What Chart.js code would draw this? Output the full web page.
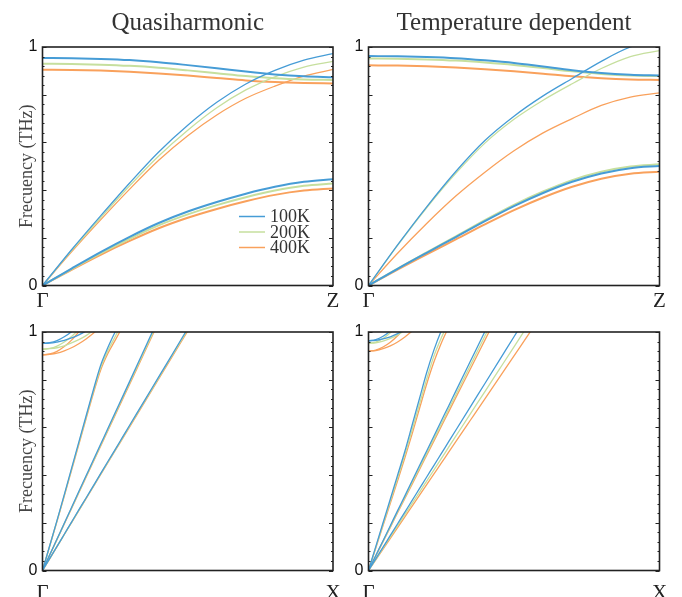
<!DOCTYPE html>
<html>
<head>
<meta charset="utf-8">
<script src="https://cdn.jsdelivr.net/npm/chart.js@4.4.1/dist/chart.umd.min.js"></script>
<style>
  body { margin: 0; background: #fff; }
  #wrap { position: relative; width: 682px; height: 597px; overflow: hidden; }
  canvas { position: absolute; }
</style>
</head>
<body>
<div id="wrap">
  <canvas id="p1" width="341" height="312" style="left:0;top:0"></canvas>
  <canvas id="p2" width="341" height="312" style="left:341px;top:0"></canvas>
  <canvas id="p3" width="341" height="297" style="left:0;top:300px"></canvas>
  <canvas id="p4" width="341" height="297" style="left:341px;top:300px"></canvas>
</div>
<script>
// temperatures
const tempLabels = ["100K", "200K", "400K"];
const tempColors = ["#469cd6", "#c6df9e", "#f9a15c"];

// wave-vector grids (fraction of path)
const kGZ = [0, 0.1, 0.2, 0.3, 0.4, 0.5, 0.6, 0.7, 0.8, 0.9, 1];
const kGX = [0, 0.025, 0.05, 0.075, 0.1, 0.125, 0.15, 0.175, 0.2, 0.225, 0.25, 0.275, 0.3, 0.35, 0.4, 0.45, 0.5, 0.55, 0.6];

// ---- Quasiharmonic, Gamma-Z
const qhZ_opt_100 = [0.954, 0.953, 0.950, 0.945, 0.936, 0.924, 0.911, 0.897, 0.885, 0.877, 0.873];
const qhZ_opt_200 = [0.930, 0.929, 0.926, 0.921, 0.913, 0.902, 0.890, 0.878, 0.869, 0.864, 0.862];
const qhZ_opt_400 = [0.905, 0.904, 0.901, 0.896, 0.889, 0.880, 0.870, 0.860, 0.853, 0.849, 0.847];
const qhZ_la_100 = [0, 0.150, 0.292, 0.430, 0.560, 0.672, 0.768, 0.845, 0.902, 0.945, 0.972];
const qhZ_la_200 = [0, 0.146, 0.284, 0.418, 0.543, 0.651, 0.745, 0.820, 0.875, 0.916, 0.940];
const qhZ_la_400 = [0, 0.141, 0.275, 0.404, 0.525, 0.628, 0.715, 0.785, 0.836, 0.878, 0.906];
const qhZ_ta_100 = [0, 0.071, 0.140, 0.204, 0.262, 0.310, 0.350, 0.385, 0.414, 0.435, 0.446];
const qhZ_ta_200 = [0, 0.069, 0.135, 0.196, 0.252, 0.298, 0.337, 0.370, 0.398, 0.418, 0.428];
const qhZ_ta_400 = [0, 0.066, 0.129, 0.187, 0.240, 0.284, 0.321, 0.353, 0.380, 0.398, 0.407];

// ---- Temperature dependent, Gamma-Z
const tdZ_opt_100 = [0.962, 0.961, 0.958, 0.953, 0.944, 0.933, 0.918, 0.903, 0.891, 0.884, 0.881];
const tdZ_opt_200 = [0.952, 0.951, 0.948, 0.943, 0.935, 0.925, 0.912, 0.898, 0.887, 0.880, 0.878];
const tdZ_opt_400 = [0.923, 0.922, 0.919, 0.914, 0.907, 0.898, 0.888, 0.877, 0.869, 0.864, 0.862];
const tdZ_la_100 = [0, 0.170, 0.330, 0.478, 0.608, 0.710, 0.795, 0.868, 0.940, 1.000, 1.030];
const tdZ_la_200 = [0, 0.168, 0.326, 0.470, 0.597, 0.697, 0.777, 0.846, 0.910, 0.960, 0.985];
const tdZ_la_400 = [0, 0.135, 0.260, 0.375, 0.475, 0.565, 0.640, 0.700, 0.755, 0.790, 0.808];
const tdZ_ta_100 = [0, 0.070, 0.137, 0.203, 0.270, 0.333, 0.388, 0.435, 0.470, 0.492, 0.501];
const tdZ_ta_200 = [0, 0.071, 0.139, 0.206, 0.274, 0.338, 0.394, 0.442, 0.477, 0.499, 0.508];
const tdZ_ta_400 = [0, 0.067, 0.131, 0.193, 0.256, 0.316, 0.369, 0.414, 0.448, 0.469, 0.477];

// ---- Quasiharmonic, Gamma-X
const qhX_a_100 = [0, 0.105, 0.210, 0.318, 0.428, 0.538, 0.648, 0.757, 0.860, 0.935, 1.000, 1.060];
const qhX_a_200 = [0, 0.104, 0.208, 0.315, 0.424, 0.533, 0.642, 0.750, 0.850, 0.922, 0.980, 1.040];
const qhX_a_400 = [0, 0.103, 0.206, 0.312, 0.420, 0.528, 0.636, 0.742, 0.840, 0.910, 0.965, 1.020];
const qhX_b_100 = [0, 0.066, 0.132, 0.198, 0.264, 0.331, 0.397, 0.463, 0.529, 0.595, 0.661, 0.727, 0.793, 0.926, 1.058];
const qhX_b_200 = [0, 0.066, 0.131, 0.197, 0.262, 0.328, 0.394, 0.459, 0.525, 0.590, 0.656, 0.722, 0.787, 0.918, 1.049];
const qhX_b_400 = [0, 0.065, 0.130, 0.195, 0.260, 0.326, 0.391, 0.456, 0.521, 0.586, 0.651, 0.716, 0.781, 0.912, 1.042];
const qhX_c_100 = [0, 0.051, 0.101, 0.152, 0.203, 0.254, 0.304, 0.355, 0.406, 0.457, 0.507, 0.558, 0.609, 0.710, 0.812, 0.913, 1.015];
const qhX_c_200 = [0, 0.050, 0.101, 0.151, 0.202, 0.252, 0.303, 0.353, 0.404, 0.454, 0.505, 0.555, 0.606, 0.707, 0.808, 0.909, 1.010];
const qhX_c_400 = [0, 0.050, 0.100, 0.151, 0.201, 0.251, 0.301, 0.351, 0.402, 0.452, 0.502, 0.552, 0.602, 0.703, 0.803, 0.904, 1.004];
const qhX_o1_100 = [0.952, 0.955, 0.964, 0.980, 1.001, 1.030];
const qhX_o2_100 = [0.952, 0.953, 0.958, 0.965, 0.975, 0.988, 1.004, 1.020];
const qhX_o1_200 = [0.928, 0.931, 0.941, 0.958, 0.981, 1.011];
const qhX_o2_200 = [0.928, 0.930, 0.934, 0.942, 0.954, 0.968, 0.985, 1.006];
const qhX_o1_400 = [0.904, 0.908, 0.919, 0.939, 0.966, 1.001, 1.040];
const qhX_o2_400 = [0.904, 0.906, 0.911, 0.921, 0.934, 0.951, 0.971, 0.995, 1.022];

// ---- Temperature dependent, Gamma-X
const tdX_a_100 = [0, 0.100, 0.200, 0.300, 0.400, 0.500, 0.610, 0.720, 0.830, 0.925, 1.005, 1.070];
const tdX_a_200 = [0, 0.097, 0.194, 0.291, 0.388, 0.486, 0.590, 0.697, 0.803, 0.900, 0.975, 1.040];
const tdX_a_400 = [0, 0.094, 0.188, 0.282, 0.376, 0.472, 0.573, 0.678, 0.782, 0.875, 0.953, 1.020];
const tdX_b_100 = [0, 0.063, 0.125, 0.188, 0.251, 0.313, 0.376, 0.439, 0.501, 0.564, 0.627, 0.689, 0.752, 0.877, 1.002];
const tdX_b_200 = [0, 0.061, 0.123, 0.184, 0.246, 0.307, 0.369, 0.430, 0.491, 0.553, 0.614, 0.676, 0.737, 0.860, 0.983, 1.106];
const tdX_b_400 = [0, 0.060, 0.121, 0.181, 0.242, 0.302, 0.362, 0.423, 0.483, 0.543, 0.604, 0.664, 0.725, 0.845, 0.966, 1.087];
const tdX_c_100 = [0, 0.049, 0.098, 0.147, 0.196, 0.245, 0.294, 0.343, 0.392, 0.441, 0.490, 0.539, 0.588, 0.686, 0.784, 0.882, 0.980, 1.078];
const tdX_c_200 = [0, 0.047, 0.094, 0.141, 0.188, 0.235, 0.281, 0.328, 0.375, 0.422, 0.469, 0.516, 0.563, 0.657, 0.750, 0.844, 0.938, 1.032];
const tdX_c_400 = [0, 0.045, 0.090, 0.135, 0.180, 0.225, 0.270, 0.315, 0.360, 0.405, 0.450, 0.495, 0.540, 0.630, 0.720, 0.810, 0.900, 0.990, 1.080];
const tdX_o1_100 = [0.963, 0.968, 0.982, 1.004, 1.030];
const tdX_o2_100 = [0.963, 0.965, 0.971, 0.980, 0.993, 1.009];
const tdX_o1_200 = [0.953, 0.958, 0.973, 0.997, 1.030];
const tdX_o2_200 = [0.953, 0.955, 0.962, 0.973, 0.988, 1.007];
const tdX_o1_400 = [0.920, 0.924, 0.937, 0.957, 0.984, 1.018];
const tdX_o2_400 = [0.920, 0.922, 0.930, 0.942, 0.958, 0.979, 1.004];

const SERIF = "'Liberation Serif', 'DejaVu Serif', serif";
const SANS = "'Liberation Sans', Arial, sans-serif";

function line(k, vals, t, wide) {
  return {
    label: tempLabels[t],
    data: vals.map((v, i) => ({ x: k[i], y: v })),
    borderColor: tempColors[t],
    borderWidth: wide ? 2 : 1.3,
    pointRadius: 0,
    cubicInterpolationMode: "monotone",
    fill: false,
  };
}

// frame + inward ticks
const framePlugin = {
  id: "frame",
  afterDraw(chart) {
    const { ctx, chartArea: a, scales } = chart;
    const ys = scales.y;
    ctx.save();
    ctx.strokeStyle = "#222";
    ctx.lineWidth = 1;
    for (let i = 0; i <= 25; i++) {
      const v = i * 0.04;
      const py = Math.round(ys.getPixelForValue(v)) + 0.5;
      const len = i % 5 === 0 ? 4 : 2;
      ctx.beginPath();
      ctx.moveTo(a.left, py);
      ctx.lineTo(a.left + len, py);
      ctx.moveTo(a.right, py);
      ctx.lineTo(a.right - len, py);
      ctx.stroke();
    }
    ctx.lineWidth = 1.6;
    ctx.strokeRect(a.left, a.top, a.right - a.left, a.bottom - a.top);
    ctx.restore();
  },
};

const legendPlugin = {
  id: "tempLegend",
  afterDraw(chart, args, opts) {
    if (!opts.show) return;
    const { ctx, chartArea: a } = chart;
    ctx.save();
    ctx.font = "18px " + SERIF;
    ctx.textBaseline = "middle";
    ctx.fillStyle = "#333";
    tempLabels.forEach((l, i) => {
      const y = a.bottom - 69 + i * 15.5;
      ctx.strokeStyle = tempColors[i];
      ctx.lineWidth = 1.5;
      ctx.beginPath();
      ctx.moveTo(a.right - 94, y);
      ctx.lineTo(a.right - 68, y);
      ctx.stroke();
      ctx.fillText(l, a.right - 63, y + 1);
    });
    ctx.restore();
  },
};

function makePanel(id, cfg) {
  return new Chart(document.getElementById(id), {
    type: "line",
    data: { datasets: cfg.datasets },
    options: {
      responsive: false,
      animation: false,
      events: [],
      layout: { padding: { top: cfg.padTop, right: cfg.padRight, left: 0, bottom: 0 } },
      scales: {
        x: {
          type: "linear",
          min: 0,
          max: 1,
          grid: { display: false, drawTicks: false },
          border: { display: false },
          afterBuildTicks: (s) => { s.ticks = [{ value: 0 }, { value: 1 }]; },
          afterFit: (s) => { s.height = cfg.xh; s.paddingLeft = 0; s.paddingRight = 0; },
          ticks: {
            color: "#222",
            padding: cfg.xPad,
            maxRotation: 0,
            autoSkip: false,
            font: { family: SERIF, size: 21 },
            callback: (v) => (v === 0 ? "Γ" : cfg.endLabel),
          },
        },
        y: {
          min: 0,
          max: 1,
          grid: { display: false, drawTicks: false },
          border: { display: false },
          afterFit: (s) => { s.width = cfg.yw; s.paddingTop = 0; s.paddingBottom = 0; },
          ticks: {
            stepSize: 0.04,
            autoSkip: false,
            padding: 5,
            color: "#111",
            font: { family: SANS, size: 16 },
            callback: (v) => (Math.abs(v) < 1e-9 ? "0" : Math.abs(v - 1) < 1e-9 ? "1" : ""),
          },
          title: {
            display: cfg.yTitle,
            text: "Frecuency (THz)",
            color: "#444",
            font: { family: SERIF, size: 18 },
            padding: { top: 16, bottom: 0 },
          },
        },
      },
      plugins: {
        legend: { display: false },
        tooltip: { enabled: false },
        title: {
          display: !!cfg.title,
          text: cfg.title || "",
          fullSize: false,
          color: "#333",
          font: { family: SERIF, size: 25, weight: "normal" },
          padding: { top: 8, bottom: 9 },
        },
        tempLegend: { show: !!cfg.legend },
      },
    },
    plugins: [framePlugin, legendPlugin],
  });
}

// blue first so it is drawn on top
makePanel("p1", {
  title: "Quasiharmonic", endLabel: "Z", padTop: 0, padRight: 8, yw: 42.5, xh: 26.5, xPad: 3, yTitle: true, legend: true,
  datasets: [
    line(kGZ, qhZ_opt_100, 0, true), line(kGZ, qhZ_la_100, 0, false), line(kGZ, qhZ_ta_100, 0, true),
    line(kGZ, qhZ_opt_200, 1, true), line(kGZ, qhZ_la_200, 1, false), line(kGZ, qhZ_ta_200, 1, true),
    line(kGZ, qhZ_opt_400, 2, true), line(kGZ, qhZ_la_400, 2, false), line(kGZ, qhZ_ta_400, 2, true),
  ],
});

makePanel("p2", {
  title: "Temperature dependent", endLabel: "Z", padTop: 0, padRight: 22.5, yw: 27.5, xh: 26.5, xPad: 3, yTitle: false,
  datasets: [
    line(kGZ, tdZ_opt_100, 0, true), line(kGZ, tdZ_la_100, 0, false), line(kGZ, tdZ_ta_100, 0, true),
    line(kGZ, tdZ_opt_200, 1, true), line(kGZ, tdZ_la_200, 1, false), line(kGZ, tdZ_ta_200, 1, true),
    line(kGZ, tdZ_opt_400, 2, true), line(kGZ, tdZ_la_400, 2, false), line(kGZ, tdZ_ta_400, 2, true),
  ],
});

makePanel("p3", {
  endLabel: "X", padTop: 32, padRight: 8, yw: 42.5, xh: 26.5, xPad: 10, yTitle: true,
  datasets: [
    line(kGX, qhX_o1_100, 0, false), line(kGX, qhX_o2_100, 0, false),
    line(kGX, qhX_a_100, 0, false), line(kGX, qhX_b_100, 0, false), line(kGX, qhX_c_100, 0, false),
    line(kGX, qhX_o1_200, 1, false), line(kGX, qhX_o2_200, 1, false),
    line(kGX, qhX_a_200, 1, false), line(kGX, qhX_b_200, 1, false), line(kGX, qhX_c_200, 1, false),
    line(kGX, qhX_o1_400, 2, false), line(kGX, qhX_o2_400, 2, false),
    line(kGX, qhX_a_400, 2, false), line(kGX, qhX_b_400, 2, false), line(kGX, qhX_c_400, 2, false),
  ],
});

makePanel("p4", {
  endLabel: "X", padTop: 32, padRight: 22.5, yw: 27.5, xh: 26.5, xPad: 10, yTitle: false,
  datasets: [
    line(kGX, tdX_o1_100, 0, false), line(kGX, tdX_o2_100, 0, false),
    line(kGX, tdX_a_100, 0, false), line(kGX, tdX_b_100, 0, false), line(kGX, tdX_c_100, 0, false),
    line(kGX, tdX_o1_200, 1, false), line(kGX, tdX_o2_200, 1, false),
    line(kGX, tdX_a_200, 1, false), line(kGX, tdX_b_200, 1, false), line(kGX, tdX_c_200, 1, false),
    line(kGX, tdX_o1_400, 2, false), line(kGX, tdX_o2_400, 2, false),
    line(kGX, tdX_a_400, 2, false), line(kGX, tdX_b_400, 2, false), line(kGX, tdX_c_400, 2, false),
  ],
});
</script>
</body>
</html>
